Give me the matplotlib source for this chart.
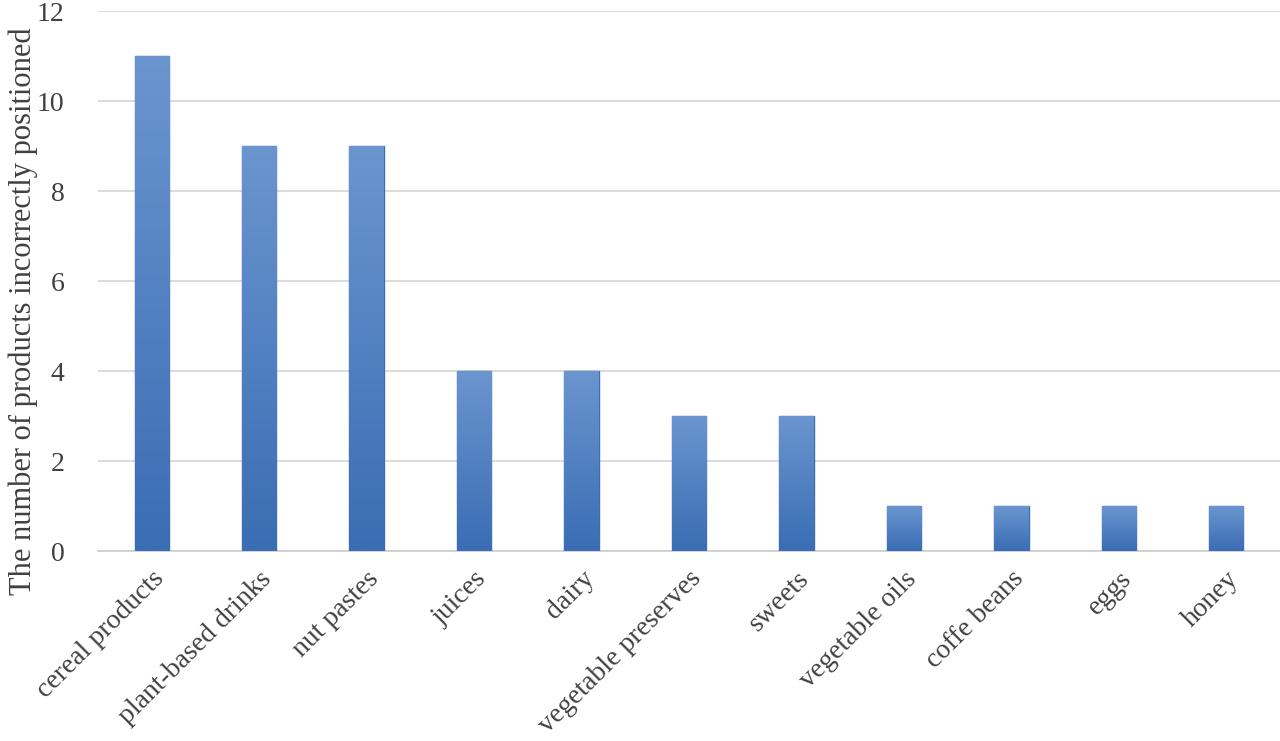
import numpy as np
import matplotlib.pyplot as plt
from matplotlib.colors import LinearSegmentedColormap

categories = ["cereal products", "plant-based drinks", "nut pastes", "juices", "dairy",
              "vegetable preserves", "sweets", "vegetable oils", "coffe beans", "eggs", "honey"]
counts = [11, 9, 9, 4, 4, 3, 3, 1, 1, 1, 1]
y_ticks = [0, 2, 4, 6, 8, 10, 12]

plt.rcParams['font.family'] = ['Liberation Serif', 'DejaVu Serif']

fig = plt.figure(figsize=(12.8, 7.41), dpi=100)
ax = fig.add_axes([0.0766, 0.2564, 0.9234, 0.7286])

x = np.arange(len(categories))
bars = ax.bar(x, counts, width=0.32, color="#4a7fc1", edgecolor="#3b6fb3",
              linewidth=1.0, zorder=3)

# gradient fill, lighter at the top of each bar
grad_cmap = LinearSegmentedColormap.from_list("bar", ["#3a6db4", "#6b95cf"])
grad = np.linspace(0, 1, 256).reshape(-1, 1)
for b in bars:
    x0, y0 = b.get_x(), b.get_y()
    w, h = b.get_width(), b.get_height()
    im = ax.imshow(grad, cmap=grad_cmap, origin="lower", aspect="auto",
                   extent=[x0, x0 + w, y0, y0 + h], zorder=3.5)
    im.set_clip_path(b)

ax.set_xlim(-0.5, len(categories) - 0.5)
ax.set_ylim(0, 12)
ax.set_yticks(y_ticks)
ax.set_xticks(x)
ax.set_xticklabels(categories, rotation=45, ha="right", rotation_mode="anchor",
                   fontsize=20, color="#404040")
ax.tick_params(axis="y", labelsize=20, labelcolor="#404040", length=0, pad=24)
ax.tick_params(axis="x", length=0, pad=11)

ax.grid(axis="y", color="#d9d9d9", linewidth=1.3, zorder=0)
for s in ["top", "right", "left"]:
    ax.spines[s].set_visible(False)
ax.spines["bottom"].set_color("#d0d0d0")
ax.spines["bottom"].set_linewidth(1.3)

ax.set_ylabel("The number of products incorrectly positioned", fontsize=22,
              color="#404040")
ax.yaxis.set_label_coords(-0.051, 0.444)

fig.savefig("out.png", dpi=100)
